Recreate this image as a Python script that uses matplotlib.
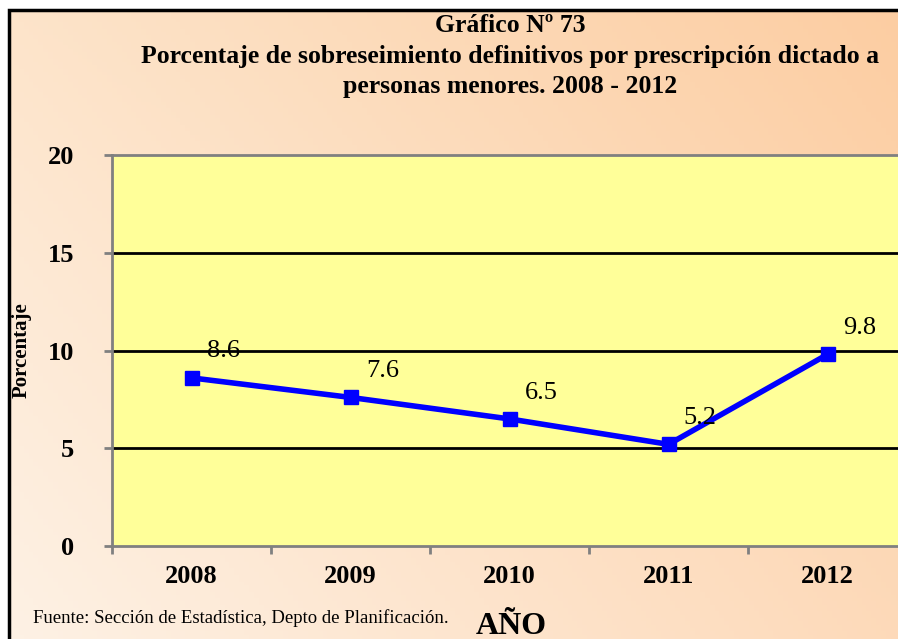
import numpy as np
import matplotlib
matplotlib.use("Agg")
import matplotlib.pyplot as plt
from matplotlib.patches import Rectangle

years = ['2008', '2009', '2010', '2011', '2012']
values = [8.6, 7.6, 6.5, 5.2, 9.8]
yticks = [0, 5, 10, 15, 20]

plt.rcParams['font.family'] = 'Liberation Serif'

fig = plt.figure(figsize=(8.98, 6.39), dpi=100)

# background gradient from the four corner colours
bg = fig.add_axes([0, 0, 1, 1], zorder=0)
xx, yy = np.meshgrid(np.linspace(0, 1, 200), np.linspace(0, 1, 200))
tl = np.array([253, 228, 202]) / 255.0
tr = np.array([252, 203, 158]) / 255.0
bl = np.array([254, 242, 230]) / 255.0
br = np.array([253, 216, 182]) / 255.0
top = tl[None, None, :] * (1 - xx[..., None]) + tr[None, None, :] * xx[..., None]
bot = bl[None, None, :] * (1 - xx[..., None]) + br[None, None, :] * xx[..., None]
img = top * (1 - yy[..., None]) + bot * yy[..., None]
bg.imshow(img, extent=[0.010, 1.1, -0.05, 0.985], aspect='auto', origin='upper')
bg.set_xlim(0, 1)
bg.set_ylim(0, 1)
bg.axis('off')
bg.add_patch(Rectangle((0.010, -0.05), 1.1, 1.035, fill=False, edgecolor='black', linewidth=2.5))

ax = fig.add_axes([112 / 898, 93 / 639, 795 / 898, 391 / 639], zorder=1)
ax.set_facecolor('#FFFF99')
x = np.arange(len(years))
ax.set_xlim(-0.5, len(years) - 0.5)
ax.set_ylim(0, 20)

for yv in [5, 10, 15]:
    ax.axhline(yv, color='black', linewidth=2, zorder=1)

ax.plot(x, values, color='#0000FF', linewidth=4, marker='s', markersize=10, zorder=3)
for xi, v in zip(x, values):
    ax.text(xi + 0.2, v + 1.35, f'{v:.1f}', fontsize=19, ha='center', va='center', color='black', zorder=4)

for sp in ['top', 'left', 'bottom']:
    ax.spines[sp].set_color('#808080')
    ax.spines[sp].set_linewidth(2)
ax.spines['right'].set_visible(False)

ax.set_yticks(yticks)
ax.set_yticklabels([str(v) for v in yticks], fontsize=19, fontweight='bold')
ax.set_xticks(np.arange(-0.5, len(years), 1), minor=False)
ax.set_xticklabels([])
ax.set_xticks(x, minor=True)
ax.set_xticklabels(years, minor=True, fontsize=19, fontweight='bold')
ax.tick_params(axis='x', which='major', length=6, width=2, color='#808080', direction='out')
ax.tick_params(axis='x', which='minor', length=0, pad=14)
ax.tick_params(axis='y', length=6, width=2, color='#808080', pad=21)

fig.text(510 / 898, 1 - 26 / 639, 'Gráfico Nº 73', ha='center', va='center', fontsize=18.5, fontweight='bold')
fig.text(510 / 898, 1 - 56 / 639, 'Porcentaje de sobreseimiento definitivos por prescripción dictado a',
         ha='center', va='center', fontsize=18.5, fontweight='bold')
fig.text(510 / 898, 1 - 86 / 639, 'personas menores. 2008 - 2012', ha='center', va='center',
         fontsize=18.5, fontweight='bold')
fig.text(22 / 898, 1 - 350 / 639, 'Porcentaje', rotation=90, ha='center', va='center', fontsize=15, fontweight='bold')
fig.text(511 / 898, 1 - 626 / 639, 'AÑO', ha='center', va='center', fontsize=23, fontweight='bold')
fig.text(33 / 898, 1 - 618 / 639, 'Fuente: Sección de Estadística, Depto de Planificación.', ha='left', va='center', fontsize=13.5)

fig.savefig('out.png', dpi=100)
